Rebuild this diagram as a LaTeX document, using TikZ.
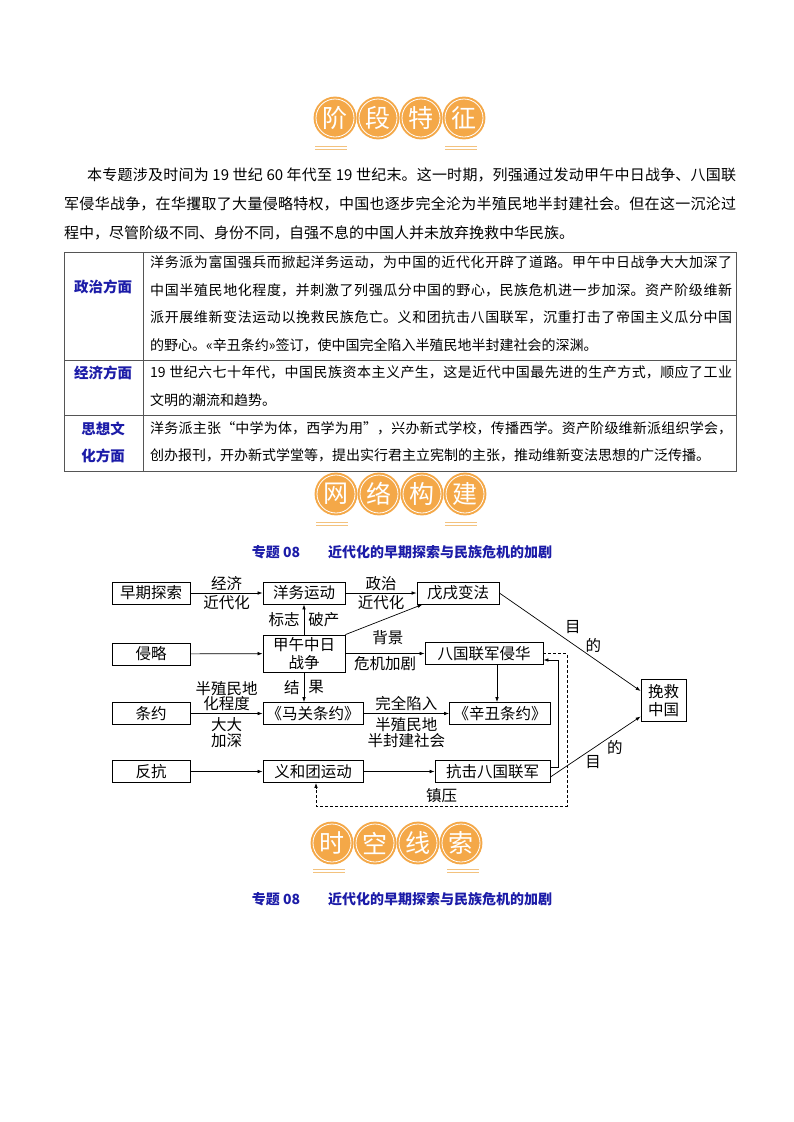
\documentclass[tikz,border=0pt]{standalone}
\usepackage{fontspec}
\setmainfont{Noto Sans CJK SC}
\usetikzlibrary{positioning, arrows.meta}
\XeTeXlinebreaklocale "zh"
\XeTeXlinebreakskip=0pt plus 2pt
\definecolor{bOrange}{HTML}{F4A848}
\definecolor{bRule}{HTML}{F3C27E}
\definecolor{tBlue}{HTML}{1C1CA8}
\definecolor{tGray}{HTML}{555555}

\begin{document}
\begin{tikzpicture}[x=1pt, y=-1pt,
  badge/.style={circle, fill=bOrange, draw=bOrange, double=white, double distance=0.8pt,
                line width=2pt, minimum size=38pt, inner sep=0pt, text=white,
                font=\fontsize{25}{25}\selectfont},
  deco/.style={draw=bRule, line width=0.7pt},
  para/.style={anchor=west, inner sep=0pt, align=justify, font=\fontsize{15}{29}\selectfont},
  cell/.style={anchor=west, inner sep=0pt, text width=582pt, align=justify,
               font=\fontsize{14}{27.5}\selectfont},
  head/.style={text=tBlue, align=center, font=\bfseries\fontsize{14.5}{27}\selectfont},
  title/.style={text=tBlue, font=\bfseries\fontsize{14}{14}\selectfont},
  box/.style={draw, line width=0.8pt, inner sep=0pt, minimum height=22pt, align=center,
              font=\fontsize{15.5}{18}\selectfont},
  lbl/.style={inner sep=1pt, align=center, font=\fontsize{15.5}{15.5}\selectfont},
  arr/.style={-{Latex[length=5pt,width=3.6pt]}, line width=0.7pt},
  dasharr/.style={arr, dash pattern=on 3pt off 2pt},
]
  \useasboundingbox (0,0) rectangle (794,1122);
  \fill[white] (0,0) rectangle (794,1122);

  % heading: 阶段特征
  \node[badge] (stageA) at (335,118) {阶};
  \node[badge] (stageB) at (378,118) {段};
  \node[badge] (stageC) at (421,118) {特};
  \node[badge] (stageD) at (464,118) {征};
  \draw[deco] ([shift={(-20,28)}]stageA.center) -- ++(32,0)
              ([shift={(-20,31)}]stageA.center) -- ++(32,0)
              ([shift={(-19,28)}]stageD.center) -- ++(32,0)
              ([shift={(-19,31)}]stageD.center) -- ++(32,0);

  \node[para, text width=672pt] (intro) at (64,204) {\hspace*{23pt}本专题涉及时间为 19 世纪 60 年代至 19 世纪末。这一时期，列强通过发动甲午中日战争、八国联\linebreak
    军侵华战争，在华攫取了大量侵略特权，中国也逐步完全沦为半殖民地半封建社会。但在这一沉沦过\linebreak
    程中，尽管阶级不同、身份不同，自强不息的中国人并未放弃挽救中华民族。};

  % table
  \draw[tGray, line width=0.8pt] (64,252) rectangle (736,471);
  \draw[tGray, line width=0.8pt] (143,252) -- (143,471)
                                 (64,360) -- (736,360)
                                 (64,415) -- (736,415);
  \node[head] (polHead) at (103,287) {政治方面};
  \node[head] (ecoHead) at (103,373) {经济方面};
  \node[head] (culHead) at (103,442) {思想文\\化方面};
  \node[cell] (polText) at (150,304) {洋务派为富国强兵而掀起洋务运动，为中国的近代化开辟了道路。甲午中日战争大大加深了\linebreak
    中国半殖民地化程度，并刺激了列强瓜分中国的野心，民族危机进一步加深。资产阶级维新\linebreak
    派开展维新变法运动以挽救民族危亡。义和团抗击八国联军，沉重打击了帝国主义瓜分中国\linebreak
    的野心。«辛丑条约»签订，使中国完全陷入半殖民地半封建社会的深渊。};
  \node[cell] (ecoText) at (150,386) {19 世纪六七十年代，中国民族资本主义产生，这是近代中国最先进的生产方式，顺应了工业\linebreak
    文明的潮流和趋势。};
  \node[cell] (culText) at (150,442) {\parfillskip=0pt 洋务派主张“中学为体，西学为用”，兴办新式学校，传播西学。资产阶级维新派组织学会，\linebreak
    创办报刊，开办新式学堂等，提出实行君主立宪制的主张，推动维新变法思想的广泛传播。};

  % heading: 网络构建
  \node[badge] (netA) at (336,494) {网};
  \node[badge] (netB) at (379,494) {络};
  \node[badge] (netC) at (422,494) {构};
  \node[badge] (netD) at (465,494) {建};
  \draw[deco] ([shift={(-20,28)}]netA.center) -- ++(32,0)
              ([shift={(-20,31)}]netA.center) -- ++(32,0)
              ([shift={(-20,28)}]netD.center) -- ++(32,0)
              ([shift={(-20,31)}]netD.center) -- ++(32,0);
  \node[title] (netTitle) at (402,552) {专题 08\hspace{2em}近代化的早期探索与民族危机的加剧};

  % network
  \node[box, minimum width=78pt] (early) at (151,593) {早期探索};
  \node[box, minimum width=82pt] (yangwu) at (304,593) {洋务运动};
  \node[box, minimum width=82pt] (wuxu) at (458,593) {戊戌变法};
  \node[box, minimum width=78pt] (invade) at (151,654) {侵略};
  \node[box, minimum width=82pt, minimum height=37pt] (jiawu) at (304,653.5) {甲午中日\\战争};
  \node[box, minimum width=118pt] (allied) at (484,653.5) {八国联军侵华};
  \node[box, minimum width=78pt] (treaty) at (151,713.5) {条约};
  \node[box, minimum width=100pt] (maguan) at (313,713.5) {《马关条约》};
  \node[box, minimum width=101pt] (xinchou) at (500,713.5) {《辛丑条约》};
  \node[box, minimum width=78pt] (resist) at (151,771.5) {反抗};
  \node[box, minimum width=100pt] (boxer) at (313,771.5) {义和团运动};
  \node[box, minimum width=115pt] (fight) at (492.5,771.5) {抗击八国联军};
  \node[box, minimum width=45pt, minimum height=42pt] (save) at (663.5,700.5) {挽救\\中国};

  \draw[arr] (early) -- (yangwu) node[lbl, midway, above=1pt] {经济} node[lbl, midway, below=1pt] {近代化};
  \draw[arr] (yangwu) -- (wuxu) node[lbl, midway, above=1pt] {政治} node[lbl, midway, below=1pt] {近代化};
  \draw[arr] (jiawu) -- (yangwu) node[lbl, midway, left=3pt] {标志} node[lbl, midway, right=3pt] {破产};
  \draw[arr] (jiawu.north east) -- ([xshift=6pt]wuxu.south west) node[lbl, pos=0.55, below=11pt] {背景};
  \draw[arr] (invade) -- (jiawu);
  \draw[arr] (jiawu) -- (allied) node[lbl, midway, below=2pt] {危机加剧};
  \draw[arr] (jiawu.south) -- (jiawu.south |- maguan.north) node[lbl, midway, left=3pt] {结} node[lbl, midway, right=3pt] {果};
  \draw[arr] (treaty) -- (maguan) node[lbl, midway, above=1pt] {半殖民地\\化程度} node[lbl, midway, below=3pt] {大大\\加深};
  \draw[arr] (maguan) -- (xinchou) node[lbl, midway, above=1pt] {完全陷入} node[lbl, midway, below=3pt] {半殖民地\\半封建社会};
  \draw[arr] ([xshift=13pt]allied.south) -- ([xshift=13pt]allied.south |- xinchou.north);
  \draw[arr] (resist) -- (boxer);
  \draw[arr] (boxer) -- (fight);
  \draw[arr] ([yshift=4.5pt]fight.east) -- ++(8,0) |- ([yshift=-6.5pt]allied.east);
  \coordinate (suppress) at (567,806);
  \draw[dasharr] (allied.east) -| (suppress) -| ([xshift=3pt]boxer.south) node[lbl, pos=0.25, above=2pt] {镇压};
  \draw[arr] (wuxu.east) -- ([yshift=9.5pt]save.west) node[lbl, pos=0.52, yshift=17pt] {目} node[lbl, pos=0.665, yshift=13pt] {的};
  \draw[arr] ([yshift=-5.5pt]fight.east) -- ([yshift=-16pt]save.west) node[lbl, pos=0.714, yshift=-14pt] {的} node[lbl, pos=0.473, yshift=-13.5pt] {目};

  % heading: 时空线索
  \node[badge] (lineA) at (332,843) {时};
  \node[badge] (lineB) at (375,843) {空};
  \node[badge] (lineC) at (418,843) {线};
  \node[badge] (lineD) at (461,843) {索};
  \draw[deco] ([shift={(-19,26)}]lineA.center) -- ++(32,0)
              ([shift={(-19,29)}]lineA.center) -- ++(32,0)
              ([shift={(-14,26)}]lineD.center) -- ++(32,0)
              ([shift={(-14,29)}]lineD.center) -- ++(32,0);
  \node[title] (lineTitle) at (402,899) {专题 08\hspace{2em}近代化的早期探索与民族危机的加剧};
\end{tikzpicture}
\end{document}
